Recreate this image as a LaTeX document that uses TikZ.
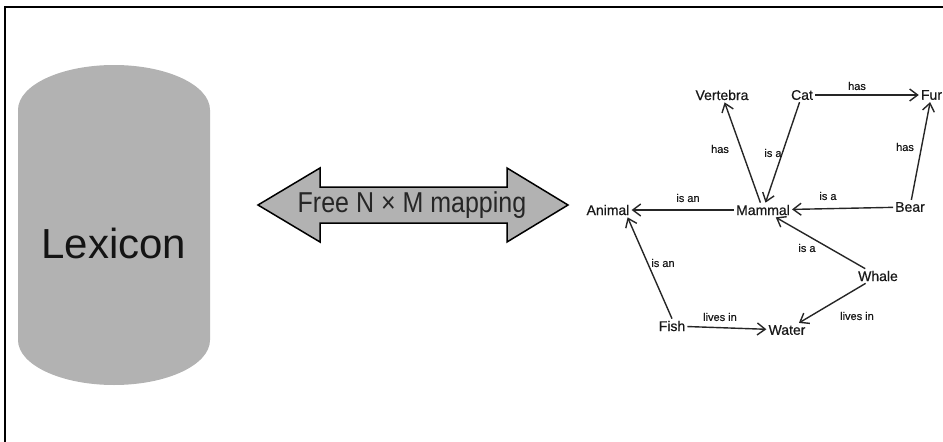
\documentclass[tikz,border=0pt]{standalone}
\usepackage{fontspec}
\setmainfont{Liberation Sans}
\newfontfamily\graphfont[FakeBold=0.6]{Liberation Sans}
\usetikzlibrary{arrows.meta}
\begin{document}
\begin{tikzpicture}[x=1pt,y=1pt,
  concept/.style={inner sep=2pt, font=\graphfont\fontsize{14}{16}\selectfont, text=black!90},
  rel/.style={inner sep=0pt, font=\graphfont\fontsize{11}{13}\selectfont, text=black!90},
  link/.style={line width=1.4pt, draw=black!85, -{Straight Barb[length=8pt,width=12pt,line width=1.4pt]}},
  frame/.style={line width=2pt, black}]
\useasboundingbox (0,0) rectangle (943,-442);
% frame lines
\coordinate (ftr) at (943,-7);
\coordinate (ftl) at (5,-7);
\coordinate (fbl) at (5,-442);
\draw[frame] (ftr) -- (ftl) -- (fbl);
% Lexicon cylinder
\fill[black!30] (18,-110) arc[start angle=180,end angle=0,x radius=96pt,y radius=45pt]
  -- (210,-340) arc[start angle=0,end angle=-180,x radius=96pt,y radius=45pt] -- cycle;
\node[font=\fontsize{42}{48}\selectfont, text=black!92] (lex) at (114,-243) {Lexicon};
% double arrow
\draw[fill=black!30, line width=1.5pt, line join=miter]
  (258,-205) -- (320,-168) -- (320,-187) -- (507,-187) -- (507,-168) -- (568,-205)
  -- (507,-242) -- (507,-223) -- (320,-223) -- (320,-242) -- cycle;
\node[font=\fontsize{25}{28}\selectfont, text=black!85] (map) at (412,-205) {\scalebox{1}[1.15]{Free N × M mapping}};
% concept nodes
\node[concept] (vert) at (722,-95) {Vertebra};
\node[concept] (cat) at (802,-95) {Cat};
\node[concept] (fur) at (931.5,-95) {Fur};
\node[concept] (animal) at (608,-210) {Animal};
\node[concept] (mammal) at (763,-210) {Mammal};
\node[concept] (bear) at (910,-207) {Bear};
\node[concept] (whale) at (878,-276) {Whale};
\node[concept] (fish) at (672,-326) {Fish};
\node[concept] (water) at (787,-330) {Water};
% links
\draw[link] (cat) -- (fur);
\draw[link] (mammal) -- (vert);
\draw[link] (cat) -- (mammal);
\draw[link] (bear) -- (fur);
\draw[link] (mammal) -- (animal);
\draw[link] (bear) -- (mammal);
\draw[link] (whale) -- (mammal);
\draw[link] (fish.north) -- ([xshift=-4pt]animal.south east);
\draw[link] (fish) -- (water);
\draw[link] (whale) -- (water);
% relation labels
\node[rel] (l1) at (857,-86) {has};
\node[rel] (l2) at (720,-149) {has};
\node[rel] (l3) at (773,-153) {is a};
\node[rel] (l4) at (905,-147) {has};
\node[rel] (l5) at (688,-198) {is an};
\node[rel] (l6) at (828,-196) {is a};
\node[rel] (l7) at (807,-248) {is a};
\node[rel] (l8) at (663,-263) {is an};
\node[rel] (l9) at (720,-317) {lives in};
\node[rel] (l10) at (857,-316) {lives in};
\end{tikzpicture}
\end{document}
